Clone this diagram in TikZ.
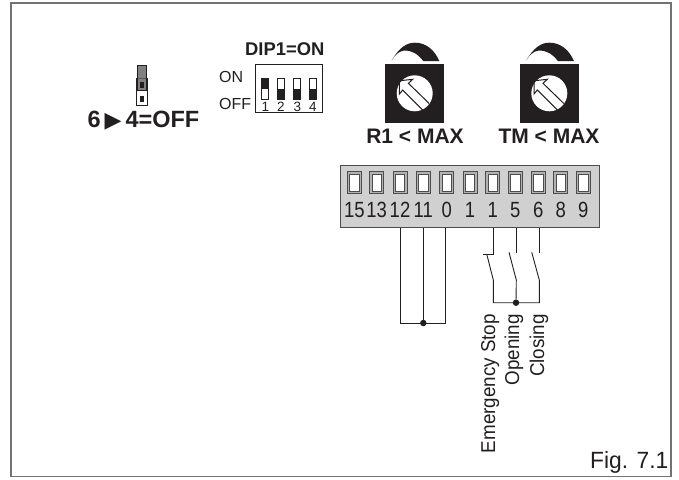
\documentclass[tikz,border=0pt]{standalone}
\usepackage{fontspec}
\setmainfont{Liberation Sans}
\newfontfamily\symfont{DejaVu Sans}
\definecolor{ink}{HTML}{231F20}
\definecolor{termgray}{HTML}{D0D0D0}
\newcommand{\fsz}[1]{\fontsize{#1}{#1}\selectfont}
\tikzset{
  lbl/.style={inner sep=0pt,text=ink,font=\fsz{#1}},
  blbl/.style={inner sep=0pt,text=ink,font=\fsz{#1}\bfseries},
  wire/.style={draw=ink,line width=0.9pt},
  dotmark/.style={circle,fill=ink,inner sep=0pt,minimum size=6.5pt},
  slotbox/.style={draw=black!70,fill=black!30,line width=.7pt,minimum width=14pt,minimum height=22.5pt,inner sep=0pt},
  slotin/.style={draw=black!70,fill=white,line width=.6pt,minimum width=9.5pt,minimum height=17pt,inner sep=0pt},
  dipframe/.style={draw=ink,line width=0.8pt},
  knobline/.style={draw=ink,line width=1pt,line join=miter}
}
\begin{document}
\begin{tikzpicture}[x=1pt,y=-1pt]
\useasboundingbox (0,0) rectangle (679,479);
\fill[white] (0,0) rectangle (679,479);
\draw[draw=black!55,line width=1.7pt] (11,3) rectangle (671,476.5);
% jumper
\fill[black!50] (137.7,65.7) rectangle (146,90);
\draw[ink,line width=.6pt] (137.7,65.7) rectangle (146,90);
\draw[ink,line width=.9pt] (136,78) rectangle (147.3,105);
\fill[black!50,opacity=.6] (137.7,78) rectangle (146,90);
\fill[ink] (139.7,81.7) rectangle (144,88);
\fill[ink] (139.7,95.7) rectangle (144,101.7);
\node[blbl=23.5,anchor=base west] (jumpertxt) at (87.5,127.7) {6\,{\symfont\fsz{22}▶}\,4=OFF};
% DIP
\node[blbl=18.4,anchor=base west] (diptxt) at (245,55) {DIP1=ON};
\node[lbl=16,anchor=base west] (ontxt) at (219,82.7) {ON};
\node[lbl=16,anchor=base west] (offtxt) at (219,109.3) {OFF};
\draw[dipframe] (255.5,64) rectangle (322,112);
\foreach \x/\n/\up in {261.7/1/1,277.3/2/0,293.7/3/0,309.3/4/0}{
  \draw[ink,line width=.9pt,fill=white] (\x,78.3) rectangle ++(7.2,20.7);
  \ifnum\up=1 \fill[ink] (\x,78.3) rectangle ++(7.2,10.3);
  \else \fill[ink] (\x,88.7) rectangle ++(7.2,10.3); \fi
  \node[lbl=13.5,anchor=base] (dip\n) at (\x+3.6,111) {\n};
}
% knobs
\foreach \cx/\nm/\lx/\ltxt in {414.7/a/415/R1 < MAX,549.3/b/549/TM < MAX}{
  \begin{scope}[shift={(\cx,0)}]
    \fill[ink] (-29.5,64) rectangle (29.3,122.7);
    \fill[ink] (-23,60.5) .. controls (-16,48) and (-8,42.5) .. (0,42.7)
       .. controls (11,42.5) and (20,50) .. (24.6,61) -- (8.6,61)
       .. controls (3,54) and (-3,49.8) .. (-11.4,50.7)
       .. controls (-16,51.5) and (-20,55) .. (-23,60.5) -- cycle;
    \fill[white] (0,93.3) circle (18);
    \draw[knobline] (14.5,103.5) -- (-6.3,83.3) -- (-2,79.3) -- (-15.3,80.8) -- (-15.3,94) -- (-12,90) -- (8,110);
  \end{scope}
  \node[blbl=21,anchor=base] (knob\nm) at (\lx,143.3) {\ltxt};
}
% terminal
\node[draw=ink!80,line width=1pt,fill=termgray,minimum width=258.7pt,minimum height=62pt,inner sep=0pt,anchor=north west] (term) at (340,165) {};
\foreach \x/\t/\k in {354.3/15/a,376.7/13/b,400/12/c,423.3/11/d,446.7/0/e,470/1/f,492.7/1/g,515.3/5/h,538.3/6/i,560.7/8/j,583.3/9/k}{
  \node[slotbox] (slot\k) at (\x,182.5) {};
  \node[slotin] (slotin\k) at (\x,182.5) {};
  \node[lbl=22,anchor=base,xscale=.84] (lab\k) at (\x,217.7) {\t};
}
% loop wires
\coordinate (w12) at (400.3,227.5);
\coordinate (w11) at (423.3,227.5);
\coordinate (w0) at (445.7,227.5);
\node[dotmark] (loopdot) at (423.3,323) {};
\draw[wire] (w12) -- (400.3,323) -- (445.7,323) -- (w0);
\draw[wire] (w11) -- (loopdot);
% switches
\coordinate (e1) at (493.3,227.5);
\coordinate (o1) at (516.3,227.5);
\coordinate (c1) at (539.3,227.5);
\node[dotmark] (swdot) at (516,302.7) {};
\draw[wire] (e1) -- (493.3,254) -- (483.3,254);
\draw[wire] (486.7,254) -- (493.3,280) -- (493.3,302.7) -- (539.3,302.7) -- (539.3,280) -- (531.7,252.3);
\draw[wire] (539.3,253.3) -- (c1);
\draw[wire] (o1) -- (516.3,253.3);
\draw[wire] (509,252.3) -- (516.3,280) -- (swdot);
% rotated labels
\node[lbl=20,rotate=90,anchor=base east] (estop) at (495,314) {\scalebox{.94}[1]{Emergency Stop}};
\node[lbl=20,rotate=90,anchor=base east] (open) at (519,314) {\scalebox{.94}[1]{Opening}};
\node[lbl=20,rotate=90,anchor=base east] (close) at (544,314) {\scalebox{.94}[1]{Closing}};
\node[lbl=23.5,anchor=base west] (fig) at (590,468.3) {\scalebox{.97}[1]{Fig. 7.1}};
\end{tikzpicture}
\end{document}
